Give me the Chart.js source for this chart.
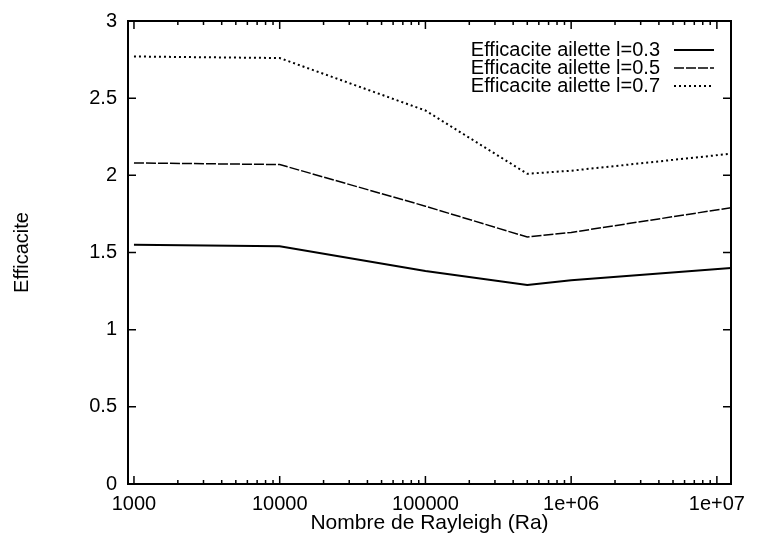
<!DOCTYPE html>
<html>
<head>
<meta charset="utf-8">
<script src="https://cdn.jsdelivr.net/npm/chart.js@4"></script>
<style>
  body { margin: 0; background: #fff; }
  canvas { display: block; }
</style>
</head>
<body>
<canvas id="effChart" width="760" height="538"></canvas>
<script>
// valeurs
const rayleigh = [1000, 10000, 100000, 500000, 1000000, 12500000];
const eff03 = [1.55, 1.54, 1.38, 1.29, 1.32, 1.40];
const eff05 = [2.08, 2.07, 1.80, 1.60, 1.63, 1.79];
const eff07 = [2.77, 2.76, 2.42, 2.01, 2.03, 2.14];
const seriesLabels = ["Efficacite ailette l=0.3", "Efficacite ailette l=0.5", "Efficacite ailette l=0.7"];

const xTicks = [1000, 10000, 100000, 1000000, 10000000];
const xTickLabels = ["1000", "10000", "100000", "1e+06", "1e+07"];
const yTicks = [0, 0.5, 1, 1.5, 2, 2.5, 3];
const yTickLabels = ["0", "0.5", "1", "1.5", "2", "2.5", "3"];

const FONT = "'Liberation Sans', Arial, Helvetica, sans-serif";

function pts(vals) {
  return rayleigh.map((x, i) => ({ x: x, y: vals[i] }));
}

// cadre + graduations vers l'interieur, facon gnuplot
const framePlugin = {
  id: "frame",
  afterDatasetsDraw(chart) {
    const { ctx, chartArea: a, scales } = chart;
    const xs = scales.x, ys = scales.y;
    ctx.save();
    ctx.strokeStyle = "#000";
    ctx.lineWidth = 1.5;
    ctx.beginPath();
    // minor ticks on log axis
    for (let d = 1000; d <= 10000000; d *= 10) {
      for (let m = 2; m <= 9; m++) {
        const v = d * m;
        if (v > xs.max) continue;
        const px = xs.getPixelForValue(v);
        ctx.moveTo(px, a.bottom); ctx.lineTo(px, a.bottom - 4);
        ctx.moveTo(px, a.top); ctx.lineTo(px, a.top + 4);
      }
    }
    xTicks.forEach(v => {
      const px = xs.getPixelForValue(v);
      ctx.moveTo(px, a.bottom); ctx.lineTo(px, a.bottom - 8);
      ctx.moveTo(px, a.top); ctx.lineTo(px, a.top + 8);
    });
    yTicks.forEach(v => {
      const py = ys.getPixelForValue(v);
      ctx.moveTo(a.left, py); ctx.lineTo(a.left + 8, py);
      ctx.moveTo(a.right, py); ctx.lineTo(a.right - 8, py);
    });
    ctx.stroke();
    ctx.lineWidth = 2;
    ctx.strokeRect(a.left, a.top, a.right - a.left, a.bottom - a.top);
    ctx.restore();
  }
};

// legende en haut a droite : texte puis echantillon de trait
const keyPlugin = {
  id: "key",
  afterDraw(chart) {
    const ctx = chart.ctx;
    ctx.save();
    ctx.font = "20px " + FONT;
    ctx.fillStyle = "#000";
    ctx.textAlign = "right";
    ctx.textBaseline = "middle";
    chart.data.datasets.forEach((ds, i) => {
      const y = 50 + i * 18;
      ctx.fillText(ds.label, 660, y);
      ctx.beginPath();
      ctx.setLineDash(ds.borderDash || []);
      ctx.lineWidth = ds.borderWidth;
      ctx.strokeStyle = "#000";
      ctx.moveTo(674, y);
      ctx.lineTo(714, y);
      ctx.stroke();
    });
    ctx.restore();
  }
};

const ctxEff = document.getElementById("effChart");

new Chart(ctxEff, {
  type: "line",
  data: {
    datasets: [
      {
        label: seriesLabels[0],
        data: pts(eff03),
        borderColor: "#000",
        borderWidth: 2,
        pointRadius: 0,
        tension: 0,
      },
      {
        label: seriesLabels[1],
        data: pts(eff05),
        borderColor: "#000",
        borderWidth: 1.5,
        borderDash: [10, 2],
        pointRadius: 0,
        tension: 0,
      },
      {
        label: seriesLabels[2],
        data: pts(eff07),
        borderColor: "#000",
        borderWidth: 2,
        borderDash: [2, 3],
        pointRadius: 0,
        tension: 0,
      },
    ]
  },
  options: {
    responsive: false,
    animation: false,
    layout: { padding: { top: 21, right: 29, left: 0, bottom: 0 } },
    scales: {
      x: {
        type: "logarithmic",
        min: 910,
        max: 12500000,
        grid: { display: false },
        border: { display: false },
        afterBuildTicks: s => { s.ticks = xTicks.map(v => ({ value: v })); },
        afterFit: s => { s.height = 54; },
        ticks: {
          color: "#000",
          font: { family: FONT, size: 20 },
          padding: 0,
          maxRotation: 0,
          autoSkip: false,
          callback: v => xTickLabels[xTicks.indexOf(v)],
        },
        title: {
          display: true,
          text: "Nombre de Rayleigh (Ra)",
          color: "#000",
          font: { family: FONT, size: 21 },
          padding: { top: 0, bottom: 2 },
        },
      },
      y: {
        min: 0,
        max: 3,
        grid: { display: false },
        border: { display: false },
        afterBuildTicks: s => { s.ticks = yTicks.map(v => ({ value: v })); },
        afterFit: s => { s.width = 128; },
        ticks: {
          color: "#000",
          font: { family: FONT, size: 20 },
          padding: 3,
          callback: v => yTickLabels[yTicks.indexOf(v)],
        },
        title: {
          display: true,
          text: "Efficacite",
          color: "#000",
          font: { family: FONT, size: 20 },
          padding: { top: 10, bottom: 0 },
        },
      },
    },
    plugins: {
      legend: { display: false },
      tooltip: { enabled: false },
    },
  },
  plugins: [framePlugin, keyPlugin],
});
</script>
</body>
</html>
